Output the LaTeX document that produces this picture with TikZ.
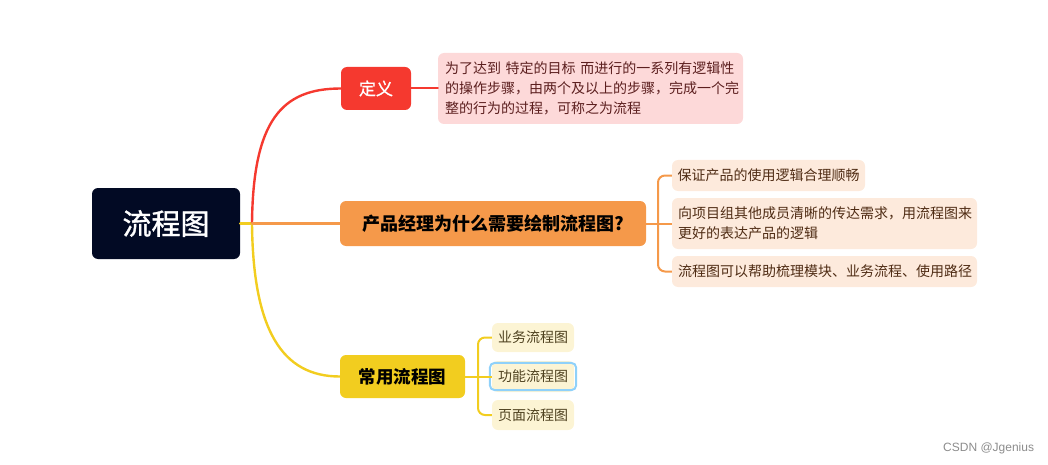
\documentclass[tikz,border=0pt]{standalone}
\usepackage{fontspec}
\setmainfont{Noto Sans CJK SC}
\newfontfamily\cjkmed[FakeBold=1.2]{Noto Sans CJK SC}
\newfontfamily\wmfont{Liberation Sans}
\definecolor{navy}{HTML}{020A24}
\definecolor{cred}{HTML}{F5392F}
\definecolor{pinkbg}{HTML}{FDD9D9}
\definecolor{redtxt}{HTML}{5C1F1F}
\definecolor{corange}{HTML}{F5994A}
\definecolor{peachbg}{HTML}{FDEADC}
\definecolor{orangetxt}{HTML}{4F2C14}
\definecolor{cyellow}{HTML}{F2CD1F}
\definecolor{ltyellow}{HTML}{FCF4D4}
\definecolor{yellowtxt}{HTML}{4F4220}
\definecolor{selblue}{HTML}{8FD1FA}
\tikzset{
  box/.style={rounded corners=6pt, inner sep=0pt, anchor=center},
  topic/.style={box, fill=#1, font=\fontsize{17.5}{20}\selectfont\bfseries},
  leaf/.style={box, font=\fontsize{14}{20}\selectfont},
  link/.style={line width=2.4pt, line cap=round},
}
\begin{document}
\begin{tikzpicture}[x=1pt,y=-1pt]
\useasboundingbox (0,0) rectangle (1048,465);
% central
\node[box, fill=navy, text=white, minimum width=148pt, minimum height=71pt,
  font=\cjkmed\fontsize{29}{32}\selectfont] (root) at (166,223.5) {流程图};
\coordinate (j) at (252,223.5);
% red topic
\node[box, fill=cred, text=white, minimum width=70pt, minimum height=43pt,
  font=\cjkmed\fontsize{17}{20}\selectfont] (def) at (376,88.5) {定义};
\node[leaf, fill=pinkbg, text=redtxt, minimum width=305pt, minimum height=71pt,
  text width=291pt, align=left] (deftext) at (590.5,88.5)
  {为了达到 特定的目标 而进行的一系列有逻辑性\\的操作步骤，由两个及以上的步骤，完成一个完\\整的行为的过程，可称之为流程};
% orange topic
\node[topic=corange, text=black, minimum width=306pt, minimum height=45pt,
  font=\fontsize{18}{20}\selectfont\bfseries] (why) at (493,223.5) {产品经理为什么需要绘制流程图?};
\node[leaf, fill=peachbg, text=orangetxt, minimum width=193pt, minimum height=31pt] (w1) at (768.5,175.5) {保证产品的使用逻辑合理顺畅};
\node[leaf, fill=peachbg, text=orangetxt, minimum width=305pt, minimum height=51pt,
  text width=293pt, align=left] (w2) at (824.5,223.5) {向项目组其他成员清晰的传达需求，用流程图来\\更好的表达产品的逻辑};
\node[leaf, fill=peachbg, text=orangetxt, minimum width=305pt, minimum height=31pt,
  text width=293pt, align=left] (w3) at (824.5,271.5) {流程图可以帮助梳理模块、业务流程、使用路径};
\coordinate (wj) at (658,223.5);
% yellow topic
\node[topic=cyellow, text=black, minimum width=125pt, minimum height=43pt] (common) at (402.5,376.5) {常用流程图};
\node[leaf, fill=ltyellow, text=yellowtxt, minimum width=82pt, minimum height=29pt] (c1) at (533,337.5) {业务流程图};
\node[leaf, fill=ltyellow, text=yellowtxt, minimum width=82pt, minimum height=31pt] (c2) at (533,376.5) {功能流程图};
\node[leaf, fill=ltyellow, text=yellowtxt, minimum width=82pt, minimum height=30pt] (c3) at (533,415) {页面流程图};
\draw[selblue, line width=2pt, rounded corners=5pt] ([xshift=-2pt,yshift=2pt]c2.south west) rectangle ([xshift=2pt,yshift=-2pt]c2.north east);
\coordinate (cj) at (478,376.5);
% connectors
\draw[link, cyellow] (root.east) -- (j);
\draw[link, cred] (j) .. controls (253,120) and (282,88.5) .. (def.west);
\draw[link, cyellow] (j) .. controls (253,330) and (282,376.5) .. (common.west);
\draw[link, corange] (j) -- (why.west);
\draw[link, cred, line width=2pt] (def.east) -- (deftext.west);
\draw[corange, line width=2pt] (why.east) -- (w2.west);
\draw[corange, line width=2pt, rounded corners=7pt] (w1.west) -| (wj) |- (w3.west);
\draw[cyellow, line width=2pt] (common.east) -- (c2.west);
\draw[cyellow, line width=2pt, rounded corners=7pt] (c1.west) -| (cj) |- (c3.west);
% watermark
\node[text=black!45, font=\wmfont\fontsize{12}{14}\selectfont, anchor=west, inner sep=0pt] (wm) at (943,448) {CSDN @Jgenius};
\end{tikzpicture}
\end{document}
